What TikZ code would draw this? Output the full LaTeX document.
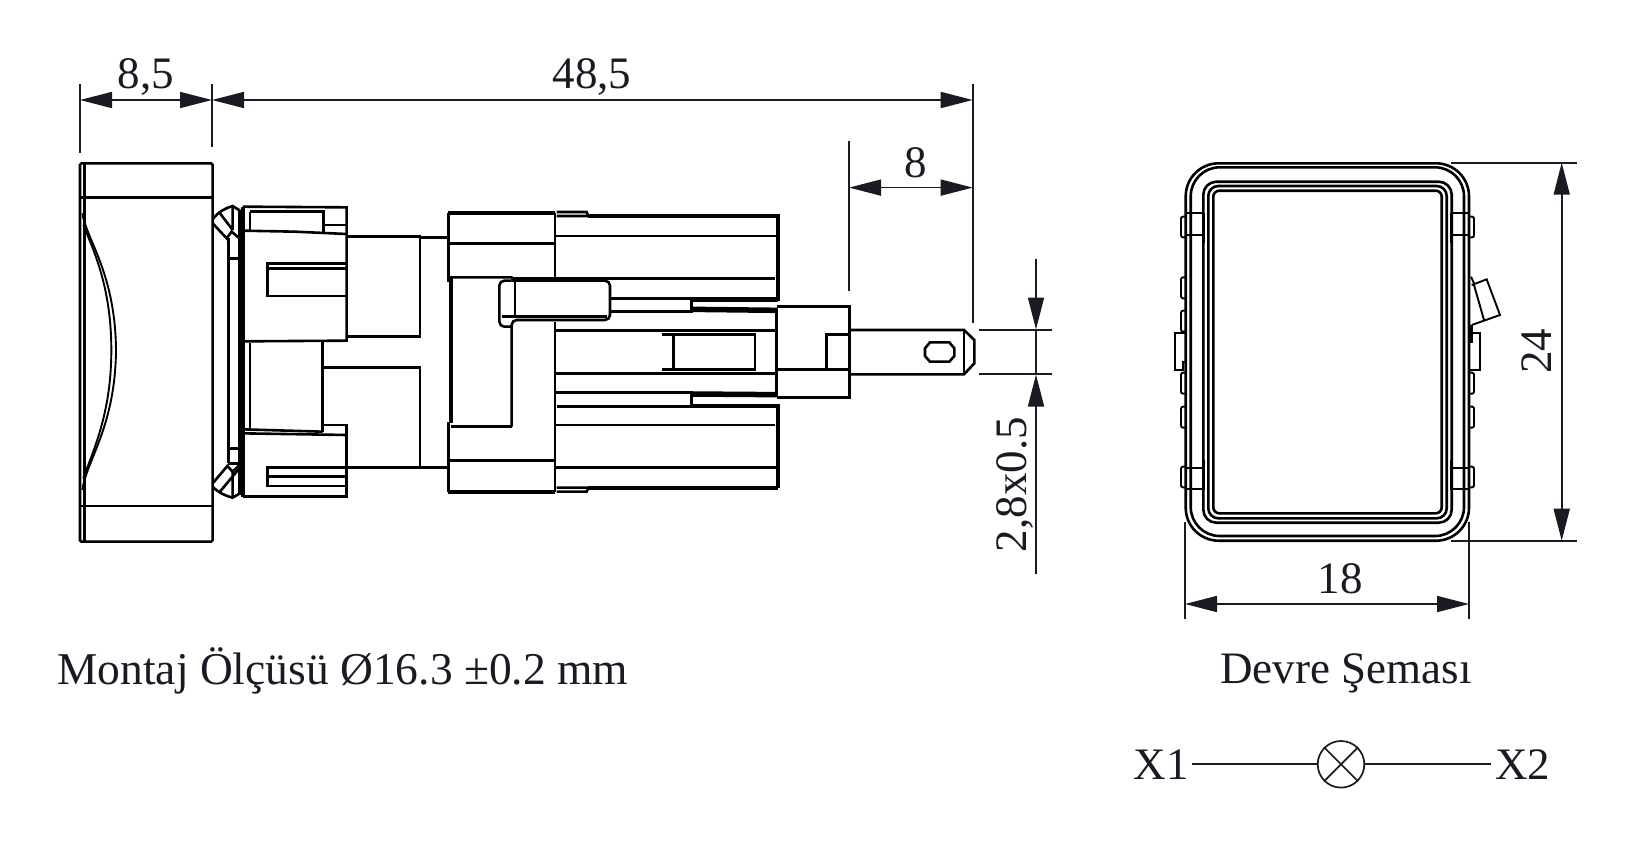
\documentclass[tikz,border=0pt]{standalone}
\usepackage{fontspec}
\setmainfont{Liberation Serif}
\usetikzlibrary{arrows.meta}
\definecolor{ink}{HTML}{1A1A24}
\tikzset{
  part/.style={line width=2.6pt,black,line join=miter},
  heavy/.style={line width=4.2pt,black},
  fine/.style={line width=1.9pt,black},
  dimline/.style={line width=1.7pt,ink},
  dimboth/.style={dimline,{Triangle[length=32pt,width=16pt]}-{Triangle[length=32pt,width=16pt]}},
  dimend/.style={dimline,-{Triangle[length=32pt,width=16pt]}},
  label/.style={font=\fontsize{45}{45}\selectfont,text=ink,inner sep=0pt},
  lampsym/.style={circle,draw,line width=1.7pt,ink,minimum size=46.6pt,inner sep=0pt}
}
\begin{document}
\begin{tikzpicture}[x=1pt,y=-1pt]
\useasboundingbox (0,0) rectangle (1637,847);
\fill[white] (0,0) rectangle (1637,847);

% --- side view: bezel and clip (zoom coordinates, factor 3)
\begin{scope}[shift={(50,130)},scale=0.33333]
\draw[part,rounded corners=1.5pt] (90,100) rectangle (488,1235);
\draw[part] (104,100) -- (104,1235);
\draw[part] (90,202) -- (488,202) (90,1128) -- (488,1128);
\draw[fine] (97,250) .. controls (110,330) and (196,430) .. (198,660) .. controls (196,890) and (110,990) .. (97,1080);
\draw[fine] (100,285) .. controls (130,360) and (184,470) .. (184,660) .. controls (184,850) and (130,960) .. (100,1045);
% ring
\draw[part] (488,268) .. controls (505,245) and (525,235) .. (548,228) -- (570,242);
\draw[part] (488,280) -- (530,325) -- (545,305) -- (568,325);
\draw[part] (510,250) -- (548,300) (548,228) -- (548,300);
\draw[part] (535,325) -- (535,1000);
\draw[part] (535,385) -- (568,385) (535,955) -- (568,955) (535,1000) -- (568,1000);
\draw[part] (488,1060) -- (532,1008) -- (548,1025) -- (568,1005);
\draw[part] (488,1070) .. controls (505,1088) and (525,1097) .. (548,1103) -- (570,1090);
\draw[part] (510,1085) -- (568,1015) (548,1025) -- (548,1103);
\draw[part] (568,240) -- (568,1095);
\draw[heavy] (580,230) -- (580,1100);
% clip upper
\draw[part] (578,230) -- (890,232) -- (890,632) -- (578,634);
\draw[part] (578,302) -- (735,305) -- (890,312);
\draw[part] (600,245) -- (820,245) -- (820,310);
\draw[part] (600,245) -- (600,300);
\draw[part] (820,285) -- (890,285);
\draw[part] (890,400) -- (652,400) -- (652,498) -- (890,498);
\draw[part] (652,415) -- (890,415);
% clip lower
\draw[part] (600,640) -- (600,900);
\draw[part] (818,632) -- (818,905);
\draw[part] (578,898) -- (818,905);
\draw[part] (578,910) -- (890,915);
\draw[part] (820,885) -- (890,885) -- (890,1100) -- (578,1100);
\draw[part] (890,1012) -- (652,1012) -- (652,1068) -- (890,1068);
\draw[part] (652,1040) -- (890,1040);
% neck
\draw[part] (890,320) -- (1110,320) -- (1110,620) -- (890,620);
\draw[part] (1110,322) -- (1195,322);
\draw[part] (820,712) -- (1110,712) -- (1110,1010);
\draw[part] (890,1012) -- (1195,1012);
\end{scope}

% --- side view: rear block
\begin{scope}[shift={(430,190)},scale=0.33333]
\draw[heavy] (55,68) -- (375,68);
\draw[part] (55,68) -- (55,275);
\draw[heavy] (62,265) -- (62,700);
\draw[part] (55,695) -- (55,905);
\draw[heavy] (55,905) -- (375,905);
\draw[part] (375,68) -- (375,265) (375,395) -- (375,905);
\draw[part] (55,160) -- (375,160);
\draw[part] (55,262) -- (245,262) -- (250,270);
\draw[part] (245,266) -- (1035,266);
\draw[part,rounded corners=5pt] (245,272) -- (208,272) -- (208,410) -- (245,410);
\draw[part,rounded corners=5pt] (245,272) -- (540,272) -- (540,390) -- (245,390) -- (245,710);
\draw[part] (62,710) -- (245,710);
\draw[part] (215,380) -- (530,380);
\draw[part] (255,270) -- (255,380);
\draw[part] (55,812) -- (375,812);
\draw[part] (380,66) -- (470,66) -- (475,78) (380,78) -- (475,78);
\draw[heavy] (475,78) -- (1043,78) -- (1043,332);
\draw[part] (375,138) -- (1040,138);
\draw[part] (540,325) -- (790,325);
\draw[line width=5.5pt,black] (785,328) -- (1043,328);
\draw[part] (785,325) -- (785,362);
\draw[part] (540,365) -- (790,365);
\draw[line width=5.5pt,black] (785,358) -- (1043,361);
\draw[part] (1040,358) -- (1040,618);
\draw[part] (375,422) -- (1035,422);
\draw[part] (375,550) -- (1035,550);
\draw[part] (695,433) -- (975,433) -- (975,538) -- (695,538);
\draw[part] (730,433) -- (730,538);
\draw[part] (375,607) -- (790,607);
\draw[line width=5.5pt,black] (785,612) -- (1043,614);
\draw[part] (785,607) -- (785,650);
\draw[part] (380,650) -- (790,650);
\draw[heavy] (785,648) -- (1043,648) -- (1043,895);
\draw[part] (375,705) -- (1035,705);
\draw[part] (375,832) -- (1040,832);
\draw[heavy] (475,895) -- (1043,895);
\draw[part] (380,905) -- (470,905) -- (475,895) (380,893) -- (475,893);
\draw[part] (1040,350) -- (1258,350) -- (1258,622) -- (1040,622);
\draw[part] (1040,538) -- (1258,538);
\draw[part] (1258,433) -- (1190,433) -- (1190,538);
\end{scope}

% --- pin
\begin{scope}[shift={(780,230)},scale=0.33333]
\draw[part] (210,300) -- (552,300) -- (583,330) -- (583,400) -- (552,433) -- (210,433);
\draw[part] (552,300) -- (552,433);
\draw[part] (450,337) -- (508,337) -- (523,355) -- (523,378) -- (508,395) -- (450,395) -- (435,378) -- (435,355) -- cycle;
\end{scope}

% --- front view
\draw[part,rounded corners=33pt] (1185.7,163.3) rectangle (1469,540.7);
\draw[part,rounded corners=29pt] (1190.7,167.3) rectangle (1464,536);
\draw[part,rounded corners=13pt] (1203.3,181.7) rectangle (1451.7,522.7);
\draw[part,rounded corners=10pt] (1208.3,186) rectangle (1446.7,518.3);
\draw[part,rounded corners=6pt] (1213.3,190.7) rectangle (1441.7,513.3);
\begin{scope}[shift={(1170,150)},scale=0.33333]
\draw[fine] (50,190) -- (100,190) (50,255) -- (100,255);
\draw[fine] (845,190) -- (900,190) (845,255) -- (900,255);
\draw[fine,rounded corners=2pt] (47,200) -- (33,200) -- (33,262) -- (47,262);
\draw[fine,rounded corners=2pt] (900,200) -- (912,200) -- (912,262) -- (900,262);
\draw[fine,rounded corners=2pt] (47,382) -- (33,382) -- (33,445) -- (47,445);
\draw[fine,rounded corners=2pt] (47,482) -- (33,482) -- (33,545) -- (47,545);
\draw[fine] (47,550) -- (15,550) -- (15,660) -- (40,660) -- (40,635) -- (47,635);
\draw[fine,rounded corners=2pt] (47,668) -- (33,668) -- (33,731) -- (47,731);
\draw[fine] (905,405) -- (950,388) -- (990,495) -- (905,525);
\draw[fine] (912,405) -- (942,510);
\draw[fine] (903,380) -- (912,400);
\draw[part] (905,525) -- (905,580);
\draw[fine] (900,550) -- (930,550) -- (930,660) -- (900,660);
\draw[fine,rounded corners=2pt] (900,668) -- (912,668) -- (912,731) -- (900,731);
\draw[fine,rounded corners=2pt] (900,770) -- (912,770) -- (912,833) -- (900,833);
\draw[fine,rounded corners=2pt] (47,770) -- (33,770) -- (33,833) -- (47,833);
\draw[fine] (50,955) -- (100,955) (50,1018) -- (100,1018);
\draw[fine] (845,955) -- (900,955) (845,1018) -- (900,1018);
\draw[fine,rounded corners=2pt] (47,950) -- (33,950) -- (33,1012) -- (47,1012);
\draw[fine,rounded corners=2pt] (900,950) -- (912,950) -- (912,1012) -- (900,1012);
\draw[part] (100,190) -- (100,280) (845,190) -- (845,280);
\draw[part] (100,930) -- (100,1020) (845,930) -- (845,1020);
\end{scope}

% --- dimensions
\coordinate (dA) at (80,100); \coordinate (dB) at (212,100); \coordinate (dC) at (972.7,100);
\draw[dimline] (80,84) -- (80,152.7);
\draw[dimline] (212,84) -- (212,147.3);
\draw[dimline] (972.7,84) -- (972.7,323);
\draw[dimboth] (dA) -- (dB);
\draw[dimboth] (dB) -- (dC);
\node[label] (l85) at (146,77) {8,5};
\node[label] (l485) at (592,77) {48,5};
\coordinate (dD) at (849,187.6); \coordinate (dE) at (972.7,187.6);
\draw[dimline] (849,141) -- (849,290.7);
\draw[dimboth] (dD) -- (dE);
\node[label] (l8) at (916,163) {8};
\draw[dimline] (979.3,330) -- (1051.7,330);
\draw[dimline] (979.3,374) -- (1051.7,374);
\coordinate (dF) at (1036,259.3); \coordinate (dG) at (1036,329.5);
\coordinate (dH) at (1036,574.3); \coordinate (dI) at (1036,374.5);
\draw[dimend] (dF) -- (dG);
\draw[dimline] (dG) -- (dI);
\draw[dimend] (dH) -- (dI);
\node[label,rotate=90] (l28) at (1015,484.5) {2,8x0.5};
\draw[dimline] (1451,162.7) -- (1577,162.7);
\draw[dimline] (1451,540.7) -- (1577,540.7);
\coordinate (dJ) at (1561.7,162.7); \coordinate (dK) at (1561.7,540.7);
\draw[dimboth] (dJ) -- (dK);
\node[label,rotate=90] (l24) at (1537,351) {24};
\draw[dimline] (1185,522) -- (1185,619.3);
\draw[dimline] (1469,522) -- (1469,619.3);
\coordinate (dL) at (1185,604); \coordinate (dM) at (1469,604);
\draw[dimboth] (dL) -- (dM);
\node[label] (l18) at (1340,579) {18};

% --- captions
\node[label,font=\fontsize{45.5}{45.5}\selectfont,anchor=base west] (montaj) at (57,684.5) {Montaj Ölçüsü Ø16.3 ±0.2 mm};
\node[label,anchor=base] (devre) at (1346,683.7) {Devre Şeması};

% --- circuit
\node[lampsym] (lamp) at (1341,764.3) {};
\draw[line width=1.7pt,ink] (lamp.north west) -- (lamp.south east) (lamp.north east) -- (lamp.south west);
\node[label,anchor=base east] (xa) at (1189,779) {X1};
\node[label,anchor=base west] (xb) at (1495,779) {X2};
\coordinate (ja) at ([xshift=2.7pt]xa.east |- lamp.west);
\coordinate (jb) at ([xshift=-4.3pt]xb.west |- lamp.east);
\draw[dimline] (ja) -- (lamp.west);
\draw[dimline] (lamp.east) -- (jb);
\end{tikzpicture}
\end{document}
